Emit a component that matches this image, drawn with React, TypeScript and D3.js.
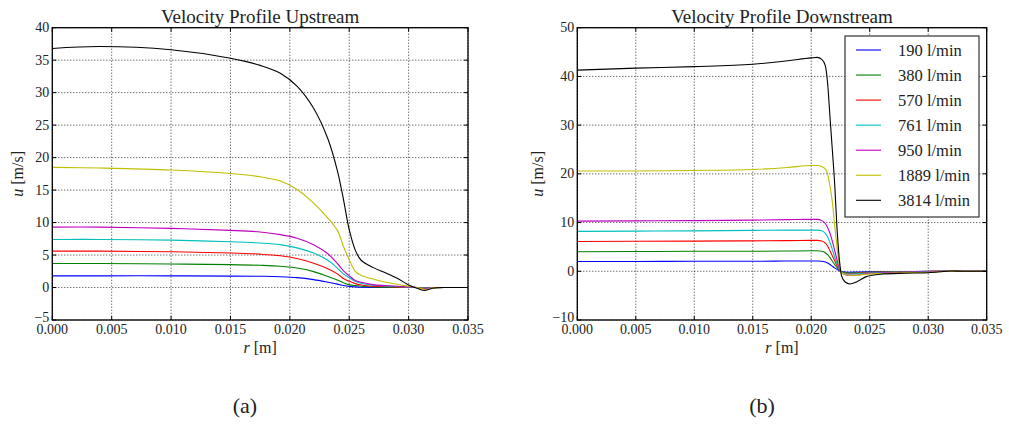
import React from "react";
import * as d3 from "d3";

// ---------- DATA ----------
const seriesNames = ["190 l/min", "380 l/min", "570 l/min", "761 l/min", "950 l/min", "1889 l/min", "3814 l/min"];
const seriesColors = ["#0000ff", "#008000", "#ff0000", "#00bfbf", "#bf00bf", "#bfbf00", "#000000"];

const xTicks = [0, 0.005, 0.01, 0.015, 0.02, 0.025, 0.03, 0.035];
const yTicksUp = [-5, 0, 5, 10, 15, 20, 25, 30, 35, 40];
const yTicksDown = [-10, 0, 10, 20, 30, 40, 50];

// Upstream profiles
const rUp = [0, 0.004, 0.01, 0.015, 0.0175, 0.0192, 0.0206, 0.022, 0.0232, 0.024, 0.0245, 0.025, 0.0255, 0.026, 0.027, 0.028, 0.029, 0.03, 0.0307, 0.0314, 0.032, 0.033, 0.035];
const up190 = [1.8, 1.8, 1.8, 1.76, 1.73, 1.67, 1.53, 1.22, 0.82, 0.52, 0.32, 0.17, 0.1, 0.05, 0.02, 0, 0, 0, 0, 0, 0, 0, 0];
const up380 = [3.7, 3.7, 3.62, 3.52, 3.42, 3.28, 3.0, 2.45, 1.7, 1.15, 0.75, 0.45, 0.3, 0.2, 0.1, 0.05, 0, 0, 0, 0, 0, 0, 0];
const up570 = [5.6, 5.6, 5.5, 5.32, 5.14, 4.9, 4.48, 3.75, 2.9, 2.1, 1.4, 0.95, 0.6, 0.4, 0.2, 0.15, 0.1, 0, 0, -0.05, 0, 0, 0];
const up761 = [7.4, 7.4, 7.3, 7.05, 6.85, 6.6, 6.1, 5.3, 4.2, 3.0, 2.1, 1.5, 0.95, 0.65, 0.35, 0.25, 0.15, 0.05, 0, -0.1, 0, 0, 0];
const up950 = [9.3, 9.3, 9.1, 8.8, 8.55, 8.15, 7.6, 6.6, 5.2, 3.7, 2.6, 1.8, 1.1, 0.8, 0.45, 0.3, 0.2, 0.1, 0, -0.15, 0, 0, 0];
const up1889 = [18.5, 18.4, 18.1, 17.55, 17.05, 16.4, 15.1, 13.0, 10.7, 8.8, 6.4, 4.3, 2.5, 1.9, 1.3, 0.85, 0.5, 0.2, 0, -0.3, -0.05, 0, 0];
const up3814 = [36.8, 37.1, 36.6, 35.3, 34.2, 33.0, 31.0, 27.6, 22.9, 18.0, 13.7, 8.9, 5.8, 4.2, 3.1, 2.3, 1.45, 0.4, -0.1, -0.45, -0.1, 0, 0];

// Downstream profiles
const rDown = [0, 0.005, 0.01, 0.015, 0.018, 0.02, 0.0205, 0.0209, 0.0212, 0.0214, 0.0216, 0.0218, 0.022, 0.0222, 0.0224, 0.0226, 0.0229, 0.0233, 0.0239, 0.0247, 0.0259, 0.028, 0.03, 0.031, 0.032, 0.033, 0.035];
const dn190 = [2.0, 2.0, 2.05, 2.05, 2.1, 2.1, 2.1, 2.05, 1.9, 1.7, 1.4, 1.05, 0.7, 0.4, 0.1, -0.05, -0.15, -0.2, -0.15, -0.1, -0.1, -0.05, 0, 0, 0, 0, 0];
const dn380 = [4.0, 4.05, 4.1, 4.1, 4.15, 4.2, 4.2, 4.1, 3.8, 3.4, 2.8, 2.1, 1.4, 0.8, 0.2, -0.1, -0.3, -0.35, -0.3, -0.2, -0.15, -0.1, 0, 0, 0, 0, 0];
const dn570 = [6.1, 6.15, 6.2, 6.25, 6.3, 6.35, 6.35, 6.2, 5.8, 5.2, 4.2, 3.2, 2.2, 1.2, 0.3, -0.15, -0.4, -0.45, -0.4, -0.25, -0.2, -0.1, -0.05, 0, 0, 0, 0];
const dn761 = [8.2, 8.25, 8.3, 8.4, 8.45, 8.45, 8.45, 8.3, 7.8, 7.1, 5.9, 4.5, 3.0, 1.6, 0.4, -0.2, -0.5, -0.55, -0.5, -0.35, -0.25, -0.15, -0.05, 0, 0, 0, 0];
const dn950 = [10.3, 10.35, 10.4, 10.5, 10.6, 10.65, 10.65, 10.4, 9.8, 9.0, 7.8, 6.2, 4.3, 2.4, 0.6, -0.3, -0.7, -0.8, -0.75, -0.5, -0.35, -0.2, -0.1, 0, 0, 0, 0];
const dn1889 = [20.6, 20.6, 20.7, 20.9, 21.3, 21.7, 21.7, 21.5, 21.0, 20.0, 17.5, 14.3, 9.5, 5.0, 1.2, -0.3, -0.6, -0.8, -0.8, -0.6, -0.45, -0.3, -0.2, -0.1, 0, 0, 0];
const dn3814 = [41.3, 41.7, 42.0, 42.5, 43.2, 43.8, 43.9, 43.5, 42.2, 38.6, 31.8, 25.0, 18.1, 9.0, 2.5, -1.0, -2.2, -2.6, -2.15, -1.1, -0.6, -0.4, -0.3, -0.1, 0.05, 0, 0];

const upSeries = [up190, up380, up570, up761, up950, up1889, up3814];
const downSeries = [dn190, dn380, dn570, dn761, dn950, dn1889, dn3814];

const FONT = "Liberation Serif, Tinos, DejaVu Serif, serif";
const txt = { fontFamily: FONT };

const fmtX = (v: number) => v.toFixed(3);
const fmtY = (v: number) => (v < 0 ? "\u2212" + Math.abs(v) : String(v));

type PanelProps = {
  x0: number; x1: number; y0: number; y1: number;
  yDomain: [number, number]; yTicks: number[];
  r: number[]; series: number[][]; title: string;
  yLabelX: number; legend?: boolean; curve: any;
};

function Panel(p: PanelProps) {
  const x = d3.scaleLinear().domain([0, 0.035]).range([p.x0, p.x1]);
  const y = d3.scaleLinear().domain(p.yDomain).range([p.y1, p.y0]);
  const line = d3.line<[number, number]>().x(d => x(d[0])).y(d => y(d[1])).curve(p.curve);
  const tl = 4;
  const cx = (p.x0 + p.x1) / 2;
  const cy = (p.y0 + p.y1) / 2;
  return (
    <g>
      {xTicks.map((t, i) => (
        <line key={"gx" + i} x1={x(t)} x2={x(t)} y1={p.y0} y2={p.y1} stroke="#000" strokeWidth={0.8} strokeDasharray="1,2" />
      ))}
      {p.yTicks.map((t, i) => (
        <line key={"gy" + i} x1={p.x0} x2={p.x1} y1={y(t)} y2={y(t)} stroke="#000" strokeWidth={0.8} strokeDasharray="1,2" />
      ))}
      <g>
        {p.series.map((s, i) => (
          <path key={"s" + i} d={line(p.r.map((rv, j) => [rv, s[j]] as [number, number])) || ""} fill="none" stroke={seriesColors[i]} strokeWidth={1.1} />
        ))}
      </g>
      {xTicks.map((t, i) => (
        <g key={"tx" + i}>
          <line x1={x(t)} x2={x(t)} y1={p.y1} y2={p.y1 - tl} stroke="#000" strokeWidth={1} />
          <line x1={x(t)} x2={x(t)} y1={p.y0} y2={p.y0 + tl} stroke="#000" strokeWidth={1} />
          <text x={x(t)} y={p.y1 + 13.5} style={txt} fontSize={14} textAnchor="middle" fill="#222">{fmtX(t)}</text>
        </g>
      ))}
      {p.yTicks.map((t, i) => (
        <g key={"ty" + i}>
          <line x1={p.x0} x2={p.x0 + tl} y1={y(t)} y2={y(t)} stroke="#000" strokeWidth={1} />
          <line x1={p.x1} x2={p.x1 - tl} y1={y(t)} y2={y(t)} stroke="#000" strokeWidth={1} />
          <text x={p.x0 - 3} y={y(t) + 4.5 - (i === 0 ? 3 : 0)} style={txt} fontSize={14} textAnchor="end" fill="#222">{fmtY(t)}</text>
        </g>
      ))}
      <rect x={p.x0} y={p.y0} width={p.x1 - p.x0} height={p.y1 - p.y0} fill="none" stroke="#000" strokeWidth={1.3} />
      <text x={cx} y={p.y0 - 5} style={txt} fontSize={19} textAnchor="middle" fill="#222">{p.title}</text>
      <text x={cx} y={p.y1 + 33} style={txt} fontSize={16} textAnchor="middle" fill="#222">
        <tspan fontStyle="italic">r</tspan> [m]
      </text>
      <text transform={`translate(${p.yLabelX},${cy}) rotate(-90)`} style={txt} fontSize={16} textAnchor="middle" fill="#222">
        <tspan fontStyle="italic">u</tspan> [m/s]
      </text>
      {p.legend && (
        <g>
          <rect x={845} y={36} width={134} height={181} fill="#fff" stroke="#333" strokeWidth={1.2} />
          {seriesNames.map((n, i) => {
            const ly = 50 + i * 25.05;
            return (
              <g key={"lg" + i}>
                <line x1={856} x2={881} y1={ly} y2={ly} stroke={seriesColors[i]} strokeWidth={1.1} />
                <text x={898} y={ly + 5.5} style={txt} fontSize={16.5} fill="#222">{n}</text>
              </g>
            );
          })}
        </g>
      )}
    </g>
  );
}

export default function App() {
  return (
    <svg width={1009} height={431} style={{ position: "absolute", left: 0, top: 0, background: "#fff" }}>
      <rect x={0} y={0} width={1009} height={431} fill="#fff" />
      <Panel x0={52.3} x1={468} y0={27.7} y1={320} yDomain={[-5, 40]} yTicks={yTicksUp}
        r={rUp} series={upSeries} title="Velocity Profile Upstream" yLabelX={23} curve={d3.curveCatmullRom.alpha(0.5)} />
      <Panel x0={577.3} x1={986.7} y0={27.7} y1={320} yDomain={[-10, 50]} yTicks={yTicksDown}
        r={rDown} series={downSeries} title="Velocity Profile Downstream" yLabelX={543} legend curve={d3.curveMonotoneX} />
      <text x={245} y={413} style={txt} fontSize={22} textAnchor="middle" fill="#222">(a)</text>
      <text x={762} y={413} style={txt} fontSize={22} textAnchor="middle" fill="#222">(b)</text>
    </svg>
  );
}
